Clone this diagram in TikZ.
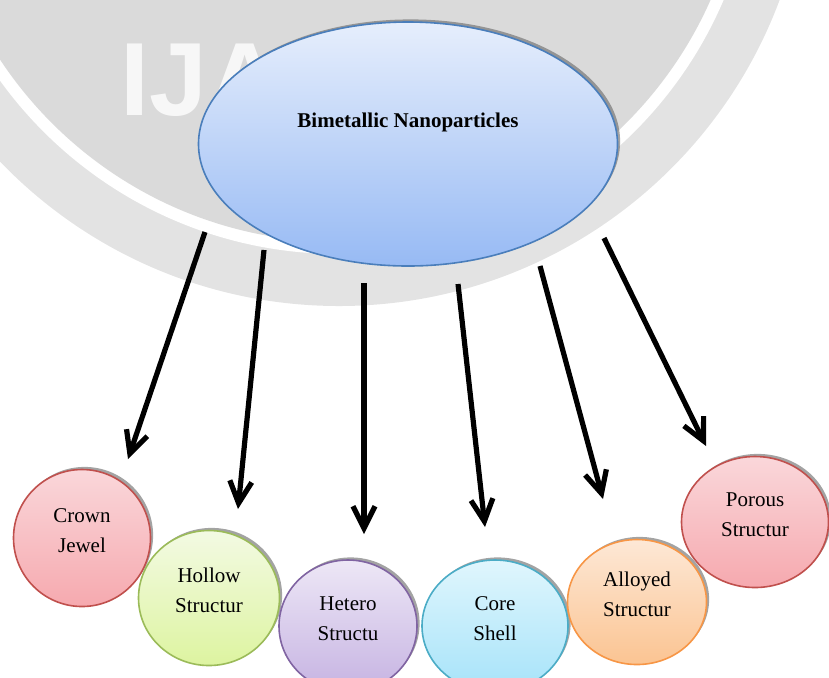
\documentclass[tikz,border=0pt]{standalone}
\usepackage{fontspec}
\setmainfont{Liberation Serif}
\newfontfamily\wmfont{Liberation Sans}
\usetikzlibrary{arrows.meta,shapes.geometric,shadows}
\tikzset{>={Straight Barb[length=11pt,width=11pt]}}

\definecolor{wmouter}{HTML}{E3E3E3}
\definecolor{wminner}{HTML}{DADADA}
\definecolor{bnpline}{HTML}{4A7EBB}
\definecolor{bnptop}{HTML}{E6EEFC}
\definecolor{bnpbot}{HTML}{97BAF4}
\definecolor{crownline}{HTML}{C0504D}
\definecolor{crowntop}{HTML}{FAD7DA}
\definecolor{crownbot}{HTML}{F6A9AF}
\definecolor{hollowline}{HTML}{9BBB59}
\definecolor{hollowtop}{HTML}{F3FAE3}
\definecolor{hollowbot}{HTML}{DDF4A0}
\definecolor{heteroline}{HTML}{8064A2}
\definecolor{heterotop}{HTML}{EDE7F6}
\definecolor{heterobot}{HTML}{C6B3E2}
\definecolor{coreline}{HTML}{4BACC6}
\definecolor{coretop}{HTML}{E0F6FD}
\definecolor{corebot}{HTML}{A6E3F9}
\definecolor{alloyline}{HTML}{F79646}
\definecolor{alloytop}{HTML}{FDE8D6}
\definecolor{alloybot}{HTML}{FBC492}

\newcommand\twolines[2]{\raisebox{0pt}[0pt][0pt]{\begin{tabular}{@{}c@{}}#1\\[3pt]#2\end{tabular}}}

\begin{document}
\begin{tikzpicture}[x=0.5pt,y=-0.5pt,
  blob/.style={ellipse,draw=#1,line width=0.8pt,inner sep=0pt,
    font=\fontsize{10.5}{12}\selectfont,
    drop shadow={shadow xshift=1.3pt,shadow yshift=1.3pt,fill=black!60,opacity=0.6}},
  branch/.style={->,line width=2.6pt,black}]

  \useasboundingbox (0,0) rectangle (829,677);
  \clip (0,0) rectangle (829,677);

  % faint seal in the background
  \fill[wmouter] (339,-164) circle (235pt);
  \fill[white] (339,-164) circle (209pt);
  \fill[wminner] (339,-164) circle (203pt);
  \node[anchor=base west,inner sep=0pt,text=white,opacity=0.8,
    font=\wmfont\bfseries\fontsize{52}{52}\selectfont] (wm) at (120,115) {IJA};

  \coordinate (s1) at (205,232);  \coordinate (t1) at (128,459);
  \coordinate (s2) at (264,250);  \coordinate (t2) at (238,509);
  \coordinate (s3) at (364,283);  \coordinate (t3) at (364,534);
  \coordinate (s4) at (458,284);  \coordinate (t4) at (485,527);
  \coordinate (s5) at (540,266);  \coordinate (t5) at (603,499);
  \coordinate (s6) at (604,238);  \coordinate (t6) at (706,446);

  \draw[branch] (s1) -- (t1);
  \draw[branch] (s2) -- (t2);
  \draw[branch] (s3) -- (t3);
  \draw[branch] (s4) -- (t4);
  \draw[branch] (s5) -- (t5);
  \draw[branch] (s6) -- (t6);

  \node[blob=bnpline,top color=bnptop,bottom color=bnpbot,
    minimum width=209.5pt,minimum height=122pt,
    font=\fontsize{10.5}{12}\selectfont\bfseries] (bnp) at (408,144)
    {\raisebox{8.5pt}[0pt][0pt]{Bimetallic Nanoparticles}};

  \node[blob=crownline,top color=crowntop,bottom color=crownbot,
    minimum width=68.5pt,minimum height=68.5pt] (crown) at (82,538)
    {\twolines{Crown}{Jewel}};
  \node[blob=hollowline,top color=hollowtop,bottom color=hollowbot,
    minimum width=70.5pt,minimum height=67.5pt] (hollow) at (209,598)
    {\twolines{Hollow}{Structur}};
  \node[blob=heteroline,top color=heterotop,bottom color=heterobot,
    minimum width=69pt,minimum height=66pt] (hetero) at (348,626)
    {\twolines{Hetero}{Structu}};
  \node[blob=coreline,top color=coretop,bottom color=corebot,
    minimum width=73pt,minimum height=66pt] (core) at (495,626)
    {\twolines{Core}{Shell}};
  \node[blob=alloyline,top color=alloytop,bottom color=alloybot,
    minimum width=69.5pt,minimum height=62.5pt] (alloy) at (637,602)
    {\twolines{Alloyed}{Structur}};
  \node[blob=crownline,top color=crowntop,bottom color=crownbot,
    minimum width=73.5pt,minimum height=65.5pt] (porous) at (755,522)
    {\twolines{Porous}{Structur}};

\end{tikzpicture}
\end{document}
